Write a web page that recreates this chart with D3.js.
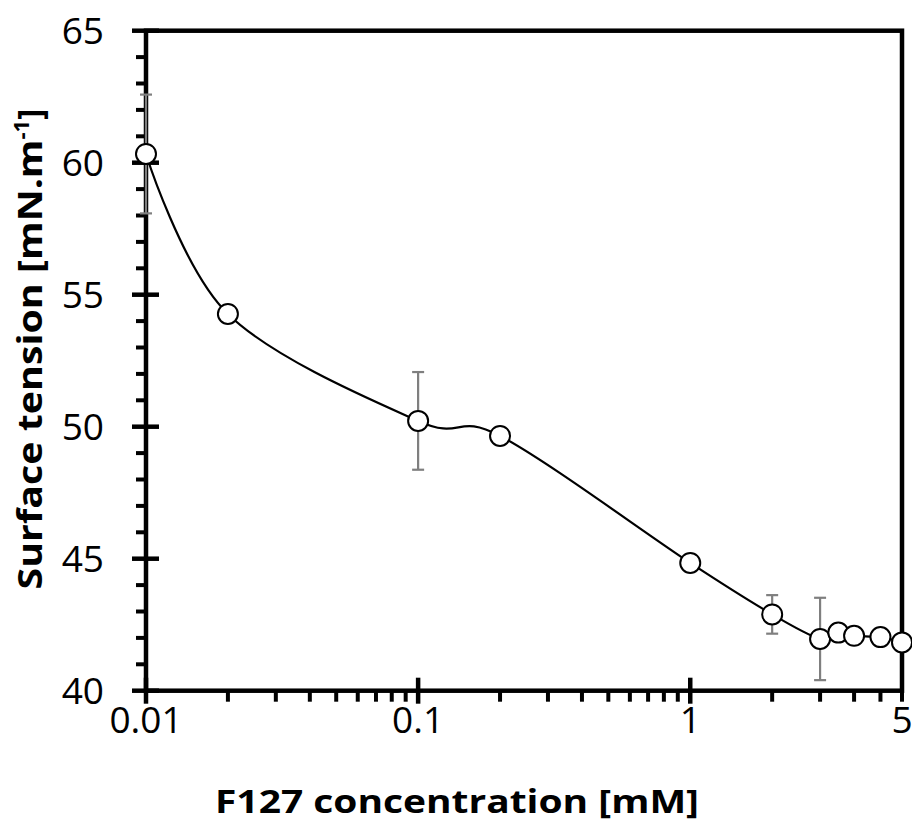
<!DOCTYPE html>
<html>
<head>
<meta charset="utf-8">
<script src="https://cdn.jsdelivr.net/npm/d3@7"></script>
<style>
  html, body { margin: 0; padding: 0; background: #fff; }
  svg { display: block; }
</style>
</head>
<body>
<svg id="chart" width="912" height="823"></svg>
<script>
// ---- data ----
const concentrations = [0.01, 0.02, 0.1, 0.2, 1, 2, 3, 3.5, 4, 5, 6];
const surfaceTension = [60.33, 54.27, 50.22, 49.65, 44.84, 42.89, 41.96, 42.2, 42.08, 42.03, 41.83];
const errorValues   = [2.25, 0, 1.85, 0, 0, 0.73, 1.56, 0, 0, 0, 0];
const xTickValues = [0.01, 0.1, 1, 6];
const xTickLabels = ["0.01", "0.1", "1", "5"];
const xMinorTicks = [0.02,0.03,0.04,0.05,0.06,0.07,0.08,0.09,0.2,0.3,0.4,0.5,0.6,0.7,0.8,0.9,2,3,4,5,6];
const yTickValues = [40, 45, 50, 55, 60, 65];
const yMinorTicks = d3.range(40, 66, 1);

const svg = d3.select("#chart");
const mLeft = 146, mRight = 902, mTop = 30.7, mBottom = 690.7;

const x = d3.scaleLog().domain([0.01, 6]).range([mLeft, mRight]);
const y = d3.scaleLinear().domain([40, 65]).range([mBottom, mTop]);

const AXW = 4.5;
const FONT = "'Open Sans', 'DejaVu Sans', sans-serif";

// minor ticks
svg.append("g").selectAll("line").data(yMinorTicks.filter(v => v % 5 !== 0)).join("line")
  .attr("x1", mLeft - 10).attr("x2", mLeft)
  .attr("y1", d => y(d)).attr("y2", d => y(d))
  .attr("stroke", "#000").attr("stroke-width", 4);
svg.append("g").selectAll("line").data(xMinorTicks).join("line")
  .attr("x1", d => x(d)).attr("x2", d => x(d))
  .attr("y1", mBottom).attr("y2", mBottom + 11)
  .attr("stroke", "#000").attr("stroke-width", 4);

// major ticks (crossing)
svg.append("g").selectAll("line").data(yTickValues).join("line")
  .attr("x1", mLeft - 14).attr("x2", mLeft + 13)
  .attr("y1", d => y(d)).attr("y2", d => y(d))
  .attr("stroke", "#000").attr("stroke-width", AXW);
svg.append("g").selectAll("line").data(xTickValues.slice(0, 3)).join("line")
  .attr("x1", d => x(d)).attr("x2", d => x(d))
  .attr("y1", mBottom - 13).attr("y2", mBottom + 13)
  .attr("stroke", "#000").attr("stroke-width", AXW);

// frame
svg.append("rect")
  .attr("x", mLeft).attr("y", mTop)
  .attr("width", mRight - mLeft).attr("height", mBottom - mTop)
  .attr("fill", "none").attr("stroke", "#000").attr("stroke-width", AXW);

// tick labels
svg.append("g").selectAll("text").data(yTickValues).join("text")
  .attr("x", 104).attr("y", d => y(d))
  .attr("dy", "0.36em")
  .attr("text-anchor", "end")
  .attr("font-family", FONT).attr("font-size", 37)
  .attr("fill", "#000")
  .text(d => d);
svg.append("g").selectAll("text").data(xTickValues).join("text")
  .attr("x", d => x(d)).attr("y", 733)
  .attr("text-anchor", "middle")
  .attr("font-family", FONT).attr("font-size", 37)
  .attr("fill", "#000")
  .text((d, i) => xTickLabels[i]);

// axis titles
svg.append("text")
  .attr("x", 457).attr("y", 813)
  .attr("text-anchor", "middle")
  .attr("font-family", FONT).attr("font-size", 33).attr("font-weight", "bold")
  .attr("textLength", 484).attr("lengthAdjust", "spacingAndGlyphs")
  .text("F127 concentration [mM]");

const yt = svg.append("text")
  .attr("transform", "translate(42,349) rotate(-90)")
  .attr("text-anchor", "middle")
  .attr("font-family", FONT).attr("font-size", 34).attr("font-weight", "bold");
yt.append("tspan").attr("textLength", 450).attr("lengthAdjust", "spacingAndGlyphs").text("Surface tension [mN.m");
yt.append("tspan").attr("dy", -13).attr("font-size", 22).text("-1");
yt.append("tspan").attr("dy", 13).text("]");

// data
const pts = concentrations.map((c, i) => ({c, v: surfaceTension[i], e: errorValues[i]}));

// error bars
const eb = svg.append("g").attr("stroke", "#7f7f7f").attr("stroke-width", 2.2);
pts.forEach(p => {
  eb.append("line").attr("x1", x(p.c)).attr("x2", x(p.c))
    .attr("y1", y(p.v - p.e)).attr("y2", y(p.v + p.e));
  eb.append("line").attr("x1", x(p.c) - 6).attr("x2", x(p.c) + 6)
    .attr("y1", y(p.v - p.e)).attr("y2", y(p.v - p.e));
  eb.append("line").attr("x1", x(p.c) - 6).attr("x2", x(p.c) + 6)
    .attr("y1", y(p.v + p.e)).attr("y2", y(p.v + p.e));
});

// smoothed line
const line = d3.line().x(d => x(d.c)).y(d => y(d.v)).curve(d3.curveCardinal.tension(0));
svg.append("path").datum(pts).attr("d", line)
  .attr("fill", "none").attr("stroke", "#000").attr("stroke-width", 2.2);

// markers
svg.append("g").selectAll("circle").data(pts).join("circle")
  .attr("cx", d => x(d.c)).attr("cy", d => y(d.v)).attr("r", 10)
  .attr("fill", "#fff").attr("stroke", "#000").attr("stroke-width", 2);
</script>
</body>
</html>
